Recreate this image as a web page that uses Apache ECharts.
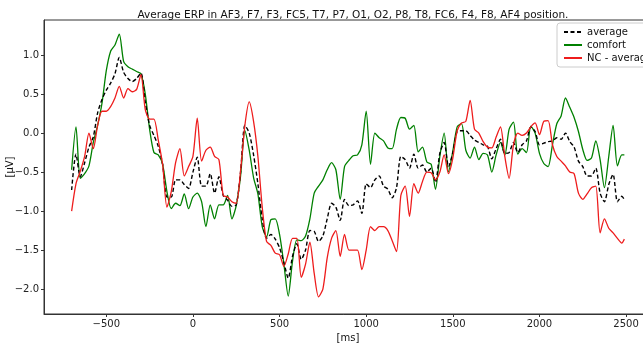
<!DOCTYPE html>
<html>
<head>
<meta charset="utf-8">
<script src="https://cdn.jsdelivr.net/npm/echarts@6/dist/echarts.min.js"></script>
<style>
  html, body { margin: 0; padding: 0; background: #fff; }
  #chart { width: 643px; height: 343px; }
</style>
</head>
<body>
<div id="chart"></div>
<script>
// time points in ms
const times = [
  -700, -675, -650, -625, -600, -575, -550, -525,
  -500, -475, -450, -425, -400, -375, -350, -325,
  -300, -275, -250, -225, -200, -175, -150, -125,
  -100, -75, -50, -25, 0, 25, 50, 75,
  100, 125, 150, 175, 200, 225, 250, 275,
  300, 325, 350, 375, 400, 425, 450, 475,
  500, 525, 550, 575, 600, 625, 650, 675,
  700, 725, 750, 775, 800, 825, 850, 875,
  900, 925, 950, 975, 1000, 1025, 1050, 1075,
  1100, 1125, 1150, 1175, 1200, 1225, 1250, 1275,
  1300, 1325, 1350, 1375, 1400, 1425, 1450, 1475,
  1500, 1525, 1550, 1575, 1600, 1625, 1650, 1675,
  1700, 1725, 1750, 1775, 1800, 1825, 1850, 1875,
  1900, 1925, 1950, 1975, 2000, 2025, 2050, 2075,
  2100, 2125, 2150, 2175, 2200, 2225, 2250, 2275,
  2300, 2325, 2350, 2375, 2400, 2425, 2450, 2475,
  2490
];

const average = [
  -0.73, -0.27, -0.56, -0.38, -0.18, -0.05, 0.26, 0.43,
  0.55, 0.64, 0.76, 0.97, 0.78, 0.70, 0.66, 0.70,
  0.77, 0.40, 0.10, -0.03, -0.17, -0.40, -0.82, -0.82,
  -0.60, -0.60, -0.66, -0.71, -0.50, -0.31, -0.68, -0.68,
  -0.52, -0.77, -0.56, -0.80, -0.86, -0.94, -0.92, -0.50,
  0.10, 0.00, -0.28, -0.65, -1.10, -1.35, -1.30, -1.36,
  -1.47, -1.66, -1.86, -1.58, -1.42, -1.62, -1.50, -1.25,
  -1.26, -1.39, -1.32, -1.10, -0.90, -0.95, -1.12, -0.85,
  -0.93, -0.92, -0.87, -1.03, -0.65, -0.70, -0.60, -0.55,
  -0.68, -0.72, -0.83, -0.70, -0.30, -0.34, -0.45, -0.27,
  -0.45, -0.41, -0.50, -0.45, -0.63, -0.26, -0.12, -0.43,
  -0.25, 0.02, 0.03, 0.03, -0.03, -0.09, -0.12, -0.15,
  -0.17, -0.33, -0.20, -0.08, -0.26, -0.25, -0.12, -0.25,
  -0.15, -0.10, 0.08, 0.02, -0.15, -0.13, -0.11, -0.10,
  -0.06, -0.08, 0.00, -0.11, -0.18, -0.36, -0.43, -0.55,
  -0.55, -0.45, -0.77, -0.88, -0.66, -0.53, -0.88, -0.81,
  -0.85
];

const comfort = [
  -0.47, 0.08, -0.58, -0.52, -0.42, -0.12, 0.10, 0.38,
  0.80, 1.05, 1.13, 1.27, 0.92, 0.85, 0.82, 0.79,
  0.76, 0.50, 0.05, -0.25, -0.28, -0.40, -0.75, -0.97,
  -0.90, -0.93, -0.78, -0.97, -0.82, -0.77, -0.88, -1.20,
  -0.92, -1.10, -0.92, -0.92, -0.80, -1.10, -0.93, -0.55,
  0.03, -0.22, -0.57, -0.78, -1.20, -1.33, -1.11, -1.10,
  -1.30, -1.68, -2.09, -1.64, -1.37, -1.38, -1.32, -1.10,
  -0.77, -0.68, -0.60, -0.47, -0.38, -0.47, -0.85, -0.43,
  -0.35, -0.29, -0.28, -0.15, 0.28, -0.40, 0.00, -0.06,
  -0.10, -0.19, -0.20, 0.05, 0.20, 0.19, 0.05, 0.10,
  -0.24, -0.18, -0.37, -0.40, -0.72, -0.30, 0.00, -0.50,
  -0.23, 0.08, 0.12, -0.22, -0.32, -0.18, -0.34, -0.26,
  -0.28, -0.50, -0.28, -0.12, -0.28, 0.05, 0.14, -0.27,
  -0.20, -0.25, 0.09, 0.00, -0.26, -0.39, -0.43, -0.15,
  0.12, 0.22, 0.45, 0.33, 0.20, 0.02, -0.21, -0.35,
  -0.32, -0.10, -0.34, -0.70, -0.30, 0.10, -0.42, -0.28,
  -0.28
];

const ncAverage = [
  -1.00, -0.65, -0.49, -0.30, 0.00, -0.20, 0.10, 0.28,
  0.28, 0.34, 0.45, 0.60, 0.45, 0.57, 0.53, 0.56,
  0.75, 0.30, 0.18, 0.18, -0.09, -0.40, -0.95, -0.75,
  -0.38, -0.20, -0.55, -0.43, -0.30, 0.19, -0.36, -0.22,
  -0.18, -0.30, -0.34, -0.80, -0.82, -0.88, -0.90, -0.48,
  0.10, 0.40, 0.15, -0.30, -0.95, -1.39, -1.44, -1.54,
  -1.56, -1.71, -1.55, -1.35, -1.35, -1.85, -1.68, -1.40,
  -1.80, -2.10, -2.00, -1.60, -1.35, -1.25, -1.58, -1.30,
  -1.50, -1.50, -1.50, -1.75, -1.50, -1.20, -1.25, -1.20,
  -1.20, -1.25, -1.38, -1.52, -0.80, -0.68, -1.07, -0.65,
  -0.77, -0.62, -0.50, -0.51, -0.60, -0.50, -0.28, -0.52,
  -0.32, 0.03, 0.13, 0.15, 0.42, 0.05, 0.00, -0.11,
  -0.18, -0.19, -0.05, 0.08, -0.30, -0.58, -0.15, 0.00,
  -0.03, 0.00, 0.08, 0.13, -0.02, 0.15, 0.16, -0.15,
  -0.30, -0.36, -0.42, -0.50, -0.52, -0.77, -0.85, -0.78,
  -0.70, -0.68, -1.28, -1.10, -1.22, -1.28, -1.35, -1.41,
  -1.36
];

const xTicks = [-500, 0, 500, 1000, 1500, 2000, 2500];
const yTicks = [-2.0, -1.5, -1.0, -0.5, 0.0, 0.5, 1.0];

const pairs = (vals) => times.map((t, i) => [t, vals[i]]);
const minus = (s) => String(s).replace('-', '\u2212');
const font = 'DejaVu Sans';

const chart = echarts.init(document.getElementById('chart'));
const option = {
  animation: false,
  title: {
    text: 'Average ERP in AF3, F7, F3, FC5, T7, P7, O1, O2, P8, T8, FC6, F4, F8, AF4 position.',
    left: 348,
    textAlign: 'center',
    top: 5,
    textStyle: { fontFamily: font, fontSize: 10.5, fontWeight: 'normal', color: '#111' }
  },
  // y axis title, rotated like matplotlib's ylabel
  graphic: [
    {
      type: 'text',
      x: 10,
      y: 167,
      rotation: Math.PI / 2,
      style: {
        text: '[\u03bcV]',
        fontFamily: font,
        fontSize: 10,
        fill: '#111',
        align: 'center',
        verticalAlign: 'middle'
      }
    }
  ],
  legend: {
    orient: 'vertical',
    left: 557,
    top: 23,
    padding: [4, 6, 4, 6],
    itemGap: 3,
    itemWidth: 18,
    itemHeight: 10,
    borderColor: '#ccc',
    borderWidth: 1,
    borderRadius: 3,
    backgroundColor: '#fff',
    itemStyle: { opacity: 0 },
    textStyle: { fontFamily: font, fontSize: 10, color: '#111' },
    data: ['average', 'comfort', 'NC - average']
  },
  grid: {
    left: 44,
    right: -9,
    top: 20,
    bottom: 29,
    outerBoundsMode: 'none',
    containLabel: false,
    show: true,
    borderColor: '#333',
    borderWidth: 1
  },
  xAxis: {
    type: 'value',
    min: -859.5,
    max: 2649.5,
    name: '[ms]',
    nameLocation: 'middle',
    nameGap: 17,
    nameTextStyle: { fontFamily: font, fontSize: 10, color: '#111' },
    splitLine: { show: false },
    axisLine: { show: true, onZero: false, lineStyle: { color: '#333' } },
    axisTick: { show: true, length: 3, customValues: xTicks, lineStyle: { color: '#333' } },
    axisLabel: {
      customValues: xTicks,
      fontFamily: font, fontSize: 10, color: '#222', margin: 5,
      formatter: (v) => minus(v)
    }
  },
  yAxis: {
    type: 'value',
    min: -2.32,
    max: 1.45,
    splitLine: { show: false },
    axisLine: { show: true, onZero: false, lineStyle: { color: '#333' } },
    axisTick: { show: true, length: 3, customValues: yTicks, lineStyle: { color: '#333' } },
    axisLabel: {
      customValues: yTicks,
      fontFamily: font, fontSize: 10, color: '#222', margin: 5,
      formatter: (v) => minus(v.toFixed(1))
    }
  },
  series: [
    {
      name: 'average',
      type: 'line',
      data: pairs(average),
      symbol: 'none',
      smooth: 0.25,
      color: '#000',
      lineStyle: { color: '#000', width: 1.4, type: [4, 2.5] },
      z: 3
    },
    {
      name: 'comfort',
      type: 'line',
      data: pairs(comfort),
      symbol: 'none',
      smooth: 0.25,
      color: '#008000',
      lineStyle: { color: '#008000', width: 1.3 },
      z: 2
    },
    {
      name: 'NC - average',
      type: 'line',
      data: pairs(ncAverage),
      symbol: 'none',
      smooth: 0.25,
      color: '#ee1c1c',
      lineStyle: { color: '#ee1c1c', width: 1.3 },
      z: 4
    }
  ]
};
chart.setOption(option);
</script>
</body>
</html>
